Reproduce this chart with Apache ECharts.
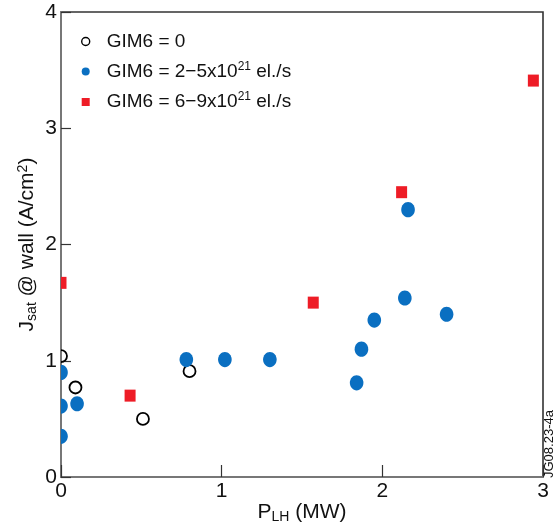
<!DOCTYPE html>
<html>
<head>
<meta charset="utf-8">
<script src="https://cdn.jsdelivr.net/npm/echarts@6/dist/echarts.min.js"></script>
<style>
  html, body { margin: 0; padding: 0; background: #fff; }
  #chart { width: 555px; height: 528px; }
</style>
</head>
<body>
<div id="chart"></div>
<script>
// Wall saturation current vs. lower-hybrid power, grouped by GIM6 gas puff rate
const xTicks = [0, 1, 2, 3];
const yTicks = [0, 1, 2, 3, 4];

const gimZeroX = [0, 0.09, 0.51, 0.80];
const gimZeroY = [1.04, 0.77, 0.50, 0.91];

const gimLowX = [0, 0, 0, 0.10, 0.78, 1.02, 1.30, 1.84, 1.87, 1.95, 2.14, 2.16, 2.40];
const gimLowY = [0.90, 0.61, 0.35, 0.63, 1.01, 1.01, 1.01, 0.81, 1.10, 1.35, 1.54, 2.30, 1.40];

const gimHighX = [0, 0.43, 1.57, 2.12, 2.94];
const gimHighY = [1.67, 0.70, 1.50, 2.45, 3.41];

const seriesNames = ['GIM6 = 0', 'GIM6 = 2−5x10²¹ el./s', 'GIM6 = 6−9x10²¹ el./s'];
const legendRich = {
  'GIM6 = 0': '{t|GIM6 = 0}',
  'GIM6 = 2−5x10²¹ el./s': '{t|GIM6 = 2−5x10}{s|21}{t| el./s}',
  'GIM6 = 6−9x10²¹ el./s': '{t|GIM6 = 6−9x10}{s|21}{t| el./s}'
};

const BLUE = '#0a6fc1';
const RED = '#ee1c26';
const FONT = 'Liberation Sans, Arial, sans-serif';

function pairs(xs, ys) { return xs.map((x, i) => [x, ys[i]]); }

function openCircle(params, api) {
  const p = api.coord([api.value(0), api.value(1)]);
  return { type: 'circle', shape: { cx: p[0], cy: p[1], r: 6 },
           style: { fill: 'rgba(255,255,255,0)', stroke: '#000', lineWidth: 1.8 } };
}
function blueDot(params, api) {
  const p = api.coord([api.value(0), api.value(1)]);
  return { type: 'ellipse', shape: { cx: p[0], cy: p[1], rx: 6.8, ry: 7.6 },
           style: { fill: BLUE } };
}
function redSquare(params, api) {
  const p = api.coord([api.value(0), api.value(1)]);
  return { type: 'rect', shape: { x: p[0] - 5.5, y: p[1] - 6, width: 11, height: 12 },
           style: { fill: RED } };
}

const chart = echarts.init(document.getElementById('chart'), null, { renderer: 'canvas' });

chart.setOption({
  animation: false,
  backgroundColor: '#fff',
  grid: { left: 61, right: 12, top: 12, bottom: 51, show: true, outerBoundsMode: 'none',
          containLabel: false,
          borderColor: '#333', borderWidth: 1.6, backgroundColor: 'transparent' },
  legend: {
    orient: 'vertical', left: 76, top: 27,
    itemWidth: 32, itemHeight: 8, itemGap: 9.5, symbolKeepAspect: true,
    data: [
      { name: seriesNames[0], icon: 'circle', itemStyle: { color: '#fff', borderColor: '#000', borderWidth: 1.4 } },
      { name: seriesNames[1], icon: 'circle', itemStyle: { color: BLUE } },
      { name: seriesNames[2], icon: 'path://M0,0L10,0L10,10L0,10Z', itemStyle: { color: RED } }
    ],
    formatter: name => legendRich[name],
    textStyle: {
      fontFamily: FONT, color: '#111',
      rich: {
        t: { fontSize: 19, lineHeight: 22, color: '#111', fontFamily: FONT },
        s: { fontSize: 12, lineHeight: 22, color: '#111', verticalAlign: 'top', padding: [0, 0, 9, 0],
             fontFamily: FONT }
      }
    }
  },
  xAxis: {
    type: 'value', min: xTicks[0], max: xTicks[xTicks.length - 1], interval: 1,
    name: '{a|P}{b|LH}{a| (MW)}', nameLocation: 'middle', nameGap: 24, nameMoveOverlap: false,
    nameTextStyle: {
      rich: {
        a: { fontSize: 21, color: '#111', fontFamily: FONT },
        b: { fontSize: 14, color: '#111', verticalAlign: 'bottom', padding: [9, 0, 0, 0], fontFamily: FONT }
      }
    },
    axisLine: { show: true, onZero: false, lineStyle: { color: '#777', width: 2 } },
    axisTick: { show: true, inside: true, length: 12, lineStyle: { color: '#333', width: 1.2 } },
    axisLabel: { fontSize: 21, color: '#111', margin: 4, fontFamily: FONT, formatter: v => String(v) },
    splitLine: { show: false }
  },
  yAxis: {
    type: 'value', min: yTicks[0], max: yTicks[yTicks.length - 1], interval: 1,
    name: '{a|J}{b|sat}{a| @ wall (A/cm}{c|2}{a|)}', nameLocation: 'middle', nameGap: 22,
    nameRotate: 90, nameMoveOverlap: false,
    nameTextStyle: {
      rich: {
        a: { fontSize: 21, color: '#111', fontFamily: FONT },
        b: { fontSize: 14, color: '#111', verticalAlign: 'bottom', padding: [9, 0, 0, 0], fontFamily: FONT },
        c: { fontSize: 14, color: '#111', verticalAlign: 'top', padding: [0, 0, 9, 0], fontFamily: FONT }
      }
    },
    axisLine: { show: true, onZero: false, lineStyle: { color: '#777', width: 2 } },
    axisTick: { show: true, inside: true, length: 10, lineStyle: { color: '#333', width: 1.2 } },
    axisLabel: { fontSize: 21, color: '#111', margin: 4, fontFamily: FONT, formatter: v => String(v) },
    splitLine: { show: false }
  },
  series: [
    { name: seriesNames[0], type: 'custom', clip: true, renderItem: openCircle,
      itemStyle: { color: '#000' }, data: pairs(gimZeroX, gimZeroY), z: 2 },
    { name: seriesNames[1], type: 'custom', clip: true, renderItem: blueDot,
      itemStyle: { color: BLUE }, data: pairs(gimLowX, gimLowY), z: 3 },
    { name: seriesNames[2], type: 'custom', clip: true, renderItem: redSquare,
      itemStyle: { color: RED }, data: pairs(gimHighX, gimHighY), z: 4 }
  ],
  graphic: [
    { type: 'text', x: 556, y: 478, rotation: Math.PI / 2,
      style: { text: 'JG08.23-4a', fontSize: 13, fill: '#111', align: 'left', verticalAlign: 'bottom',
               fontFamily: FONT } }
  ]
});
</script>
</body>
</html>
